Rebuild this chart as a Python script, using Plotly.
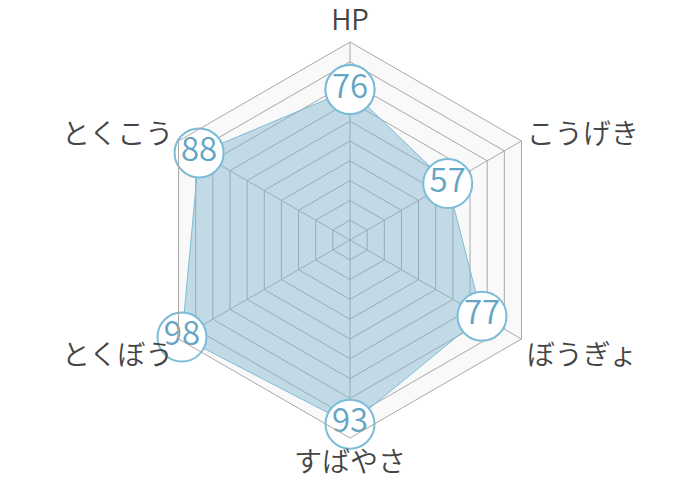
import plotly.graph_objects as go

# stats, clockwise from the top
categories = ["HP", "こうげき", "ぼうぎょ", "すばやさ", "とくぼう", "とくこう"]
values = [76, 57, 77, 93, 98, 88]

FONT = "Noto Sans CJK JP"
LINE_BLUE = "#7dbcd8"
TEXT_BLUE = "#64a4c4"

fig = go.Figure()

fig.add_trace(
    go.Scatterpolar(
        r=values + values[:1],
        theta=categories + categories[:1],
        mode="lines+markers+text",
        fill="toself",
        fillcolor="rgba(125,180,206,0.45)",
        line=dict(color=LINE_BLUE, width=1),
        marker=dict(size=49, color="white", line=dict(color=LINE_BLUE, width=2)),
        text=[str(v) for v in values] + [""],
        textposition="middle center",
        textfont=dict(family=FONT, size=33, color=TEXT_BLUE, weight=350),
        hoverinfo="skip",
        showlegend=False,
    )
)

# the page adds an 8px body margin, so the margins are shifted to compensate
fig.update_layout(
    width=700,
    height=480,
    paper_bgcolor="white",
    margin=dict(l=44, r=60, t=34, b=50),
    font=dict(family=FONT, color="#444"),
    polar=dict(
        gridshape="linear",
        bgcolor="#f9f9f9",
        radialaxis=dict(
            range=[0, 100],
            dtick=10,
            showticklabels=False,
            ticks="",
            showline=False,
            gridcolor="#a8a8a8",
            gridwidth=1,
        ),
        angularaxis=dict(
            rotation=90,
            direction="clockwise",
            ticks="",
            tickfont=dict(family=FONT, size=28, color="#444", weight=350),
            gridcolor="#a8a8a8",
            linecolor="#a8a8a8",
        ),
    ),
)

fig.write_html("out.html")
